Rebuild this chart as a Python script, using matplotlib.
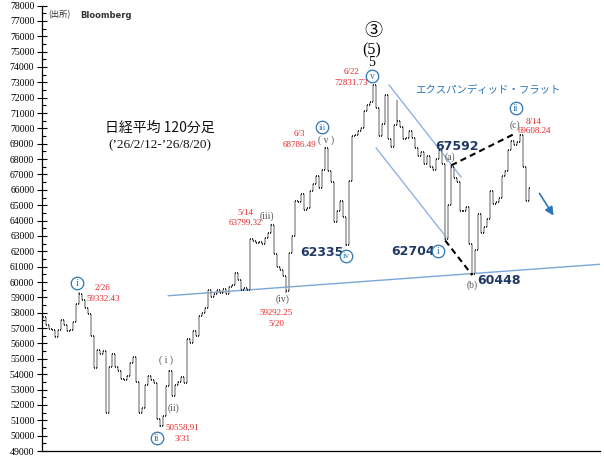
import matplotlib
matplotlib.use('Agg')
import matplotlib.pyplot as plt
from matplotlib.lines import Line2D
import numpy as np
from matplotlib.ticker import MultipleLocator

# ---- data (Nikkei 225, 120-minute bars, '26/2/12 - '26/8/20) ----
closes = [57700, 57200, 56950, 56850, 56400, 56900, 57500, 57200, 56800, 56900,
          57400, 58600, 59200, 58800, 58300, 57950, 56500, 54400, 55600, 55300,
          55500, 51500, 54500, 55300, 54500, 54200, 53700, 53600, 53900, 54700,
          55100, 53500, 51500, 51800, 53300, 53900, 53600, 53400, 51100, 50600,
          51300, 53200, 54200, 52600, 53300, 53500, 53800, 53400, 56300, 56000,
          56800, 56500, 57800, 58000, 58300, 59450, 59000, 59200, 59450, 59300,
          59550, 59250, 59700, 59800, 60600, 60100, 59500, 59600, 59450, 62800,
          62700, 62550, 62600, 62500, 62850, 63200, 63700, 61800, 61000, 60800,
          60400, 59400, 61900, 63000, 65300, 65200, 65700, 64700, 64800, 65900,
          66400, 66900, 66100, 67300, 68700, 67200, 66500, 63900, 64600, 65300,
          64200, 62400, 66600, 69500, 69600, 69800, 70000, 71100, 71500, 71700,
          72800, 71300, 69500, 70300, 72200, 69300, 68800, 70200, 70500, 70100,
          69300, 69400, 69800, 69400, 68700, 68200, 68450, 67700, 68200, 67500,
          67300, 68000, 68600, 67700, 62800, 65000, 67500, 66800, 66500, 64600,
          64600, 64900, 62500, 60500, 62100, 64400, 63200, 63600, 64100, 65900,
          65100, 65200, 65500, 66900, 67200, 68600, 69200, 68900, 69100, 69600,
          67500, 65300, 66100]

# intrabar extremes of the labelled swing points (bar index, price)
ext_idx = [12, 39, 42, 76, 81, 94, 101, 110, 118, 134, 136, 143, 159]
ext_val = [59332.43, 50558.91, 54300, 63799.32, 59292.25, 68786.49, 62335,
           72831.73, 71850, 62704, 67592, 60448, 69608.24]

# trend / channel lines (bar index, price)
support_x = [41.7, 186.7]
support_y = [59107, 61171]
chan_up_x = [115.3, 139.3]
chan_up_y = [72824, 66834]
chan_lo_x = [111.0, 134.3]
chan_lo_y = [68722, 62930]
dash1_x = [134, 143]
dash1_y = [62704, 60448]
dash2_x = [136, 156.7]
dash2_y = [67592, 69608]

yticks = list(range(49000, 78001, 1000))

W, H = 604, 465
fig = plt.figure(figsize=(W / 100, H / 100), dpi=100)
ax = fig.add_axes([42 / W, 14 / H, 558 / W, 445.5 / H])
ax.set_xlim(-0.4, 185.6)
ax.set_ylim(49000, 78000)

# ---- OHLC bars ----
n = len(closes)
idx = np.arange(n)
closes_a = np.array(closes, dtype=float)
opens = np.concatenate([[closes_a[0]], closes_a[:-1]])
highs = np.maximum(opens, closes_a)
lows = np.minimum(opens, closes_a)
for i, v in zip(ext_idx, ext_val):
    highs[i] = max(highs[i], v)
    lows[i] = min(lows[i], v)
ax.vlines(idx, lows, highs, color='#9a9a9a', lw=1.1, zorder=2)
ax.hlines(opens, idx - 0.35, idx, color='#111111', lw=1.2, zorder=3)
ax.hlines(closes_a, idx, idx + 0.35, color='#111111', lw=1.2, zorder=3)

# ---- lines ----
lb = '#8db3e2'
ax.plot(support_x, support_y, color='#7aa6d8', lw=1.0, zorder=1)
ax.plot(chan_up_x, chan_up_y, color=lb, lw=1.0, zorder=1)
ax.plot(chan_lo_x, chan_lo_y, color=lb, lw=1.0, zorder=1)
ax.plot(dash1_x, dash1_y, color='black', lw=1.5, ls=(0, (3, 2)), zorder=4)
ax.plot(dash2_x, dash2_y, color='black', lw=1.5, ls=(0, (3, 2)), zorder=4)

# ---- axes styling ----
for s in ['top', 'right']:
    ax.spines[s].set_visible(False)
for s in ['left', 'bottom']:
    ax.spines[s].set_linewidth(0.9)
ax.set_xticks([])
ax.set_yticks(yticks)
ax.set_yticklabels([str(v) for v in yticks], family='Liberation Serif', fontsize=7)
ax.yaxis.set_minor_locator(MultipleLocator(500))
ax.tick_params(axis='y', which='major', direction='inout', length=7, width=0.8, pad=2)
ax.tick_params(axis='y', which='minor', direction='in', length=3, width=0.8)

# ---- annotations ----
JP = ['Noto Sans CJK JP', 'DejaVu Sans']
SER = ['Liberation Serif', 'DejaVu Serif']
red = '#e8262a'
navy = '#1f3864'
cblue = '#2e75b6'
gray = '#555555'


def t(x, y, s, **kw):
    kw.setdefault('ha', 'center')
    kw.setdefault('va', 'center')
    fig.text(x / W, 1 - y / H, s, **kw)


def circ(x, y, s, size=7):
    fig.add_artist(Line2D([x / W], [1 - y / H], transform=fig.transFigure,
                          marker='o', ms=9, mfc='white', mec=cblue, mew=0.9,
                          ls='none', zorder=5))
    fig.text(x / W, 1 - y / H - 0.5 / H, s, color=cblue, fontsize=size, family=SER,
             ha='center', va='center', zorder=6)


t(48, 15, '(出所)', ha='left', fontsize=6, family=JP, color='#333333')
t(80, 15, 'Bloomberg', ha='left', fontsize=6, family=['DejaVu Sans'],
  fontweight='bold', color='#333333')
t(160, 128, '日経平均 120分足', fontsize=10, family=JP, color='#111111')
t(160, 145, '(\u201926/2/12-\u201926/8/20)', fontsize=9.5, family=SER, color='#111111')

# wave i / ii
circ(77, 283, 'i', 8)
t(103, 288, '2/26', color=red, fontsize=6.5, family=SER)
t(103, 299, '59332.43', color=red, fontsize=6.5, family=SER)
circ(157, 438, 'ii', 7)
t(182, 428, '50558.91', color=red, fontsize=6.5, family=SER)
t(183, 439, '3/31', color=red, fontsize=6.5, family=SER)
t(166, 360, '( i )', color=gray, fontsize=7, family=SER)
t(174, 408, '(ii)', color=gray, fontsize=7, family=SER)

# wave (iii) / (iv)
t(245, 213, '5/14', color=red, fontsize=6.5, family=SER)
t(245, 223, '63799.32', color=red, fontsize=6.5, family=SER)
t(267, 216, '(iii)', color=gray, fontsize=7, family=SER)
t(283, 299, '(iv)', color=gray, fontsize=7, family=SER)
t(276, 313, '59292.25', color=red, fontsize=6.5, family=SER)
t(276, 324, '5/20', color=red, fontsize=6.5, family=SER)

# wave iii / iv
circ(322, 127, 'iii', 6)
t(326, 140, '( v )', color=gray, fontsize=7, family=SER)
t(299, 134, '6/3', color=red, fontsize=6.5, family=SER)
t(299, 145, '68786.49', color=red, fontsize=6.5, family=SER)
t(322, 252, '62335', color=navy, fontsize=9, fontweight='bold', family=['DejaVu Sans'])
circ(346, 256, 'iv', 6.5)

# wave v top
t(373, 31, '③', fontsize=13, family=JP, color='black')
t(372, 50, '(5)', fontsize=11.5, family=SER, color='black')
t(372, 63, '5', fontsize=10, family=SER, color='black')
circ(372, 76, 'v', 7)
t(351, 72, '6/22', color=red, fontsize=6.5, family=SER)
t(351, 83, '72831.73', color=red, fontsize=6.5, family=SER)

# correction
t(488, 90, 'エクスパンディッド・フラット', color=cblue, fontsize=7.5, family=JP)
circ(516, 108, 'ii', 7)
t(515, 125, '(c)', color=gray, fontsize=7, family=SER)
t(534, 122, '8/14', color=red, fontsize=6.5, family=SER)
t(534, 131, '69608.24', color=red, fontsize=6.5, family=SER)
t(457, 146, '67592', color=navy, fontsize=9, fontweight='bold', family=['DejaVu Sans'])
t(450, 157, '(a)', color=gray, fontsize=7, family=SER)
t(413, 251, '62704', color=navy, fontsize=9, fontweight='bold', family=['DejaVu Sans'])
circ(438, 251, 'i', 8)
t(472, 285, '(b)', color=gray, fontsize=7, family=SER)
t(499, 280, '60448', color=navy, fontsize=9, fontweight='bold', family=['DejaVu Sans'])

# arrow
fig.add_artist(matplotlib.patches.FancyArrowPatch(
    (538 / W, 1 - 191 / H), (555 / W, 1 - 218 / H), transform=fig.transFigure,
    arrowstyle='-|>,head_length=5,head_width=2.5', color=cblue, lw=1.2))

fig.savefig('out.png', dpi=100, facecolor='white')
